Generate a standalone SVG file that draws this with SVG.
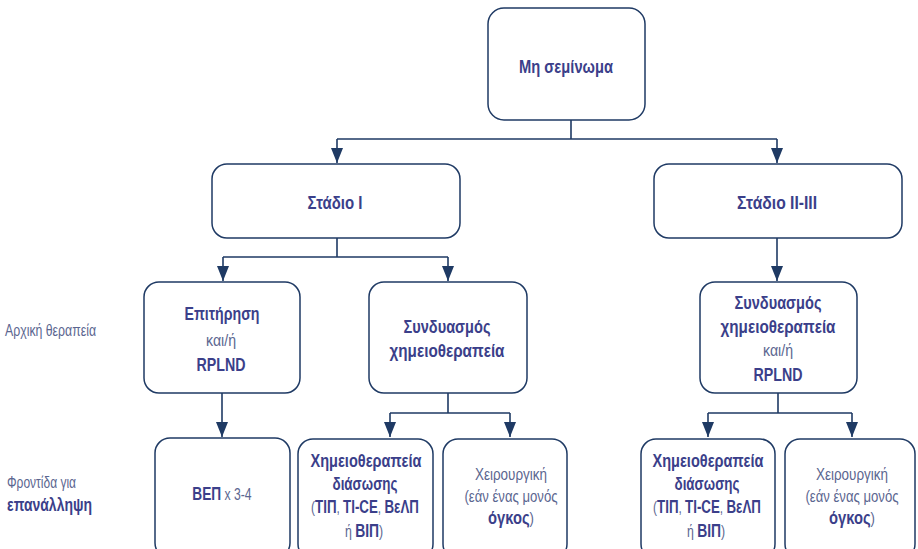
<svg xmlns="http://www.w3.org/2000/svg" width="918" height="549" viewBox="0 0 918 549">
<style>
.box{fill:#fff;stroke:#1f3a64;stroke-width:1.5}
.ln{fill:none;stroke:#1f3a64;stroke-width:1.6}
text{font-family:"Liberation Sans",Arial,sans-serif;text-anchor:middle}
.b{font-weight:bold;fill:#3b3f8a;font-size:18px}
.r{fill:#5b6690;font-size:16px}
.s{text-anchor:start}
</style>
<defs>
<marker id="ah" markerUnits="userSpaceOnUse" markerWidth="15" markerHeight="12" refX="15" refY="6" orient="auto" viewBox="0 0 15 12">
<path d="M0,0 L15,6 L0,12 Z" fill="#1f3a64"/>
</marker>
</defs>
<rect width="918" height="549" fill="#fff"/>
<g id="connectors">
<path class="ln" d="M571,120 V139 M337,139 H777"/>
<path class="ln" d="M337,139 V163" marker-end="url(#ah)"/>
<path class="ln" d="M777,139 V163" marker-end="url(#ah)"/>
<path class="ln" d="M337,238 V257 M223,257 H448"/>
<path class="ln" d="M223,257 V281" marker-end="url(#ah)"/>
<path class="ln" d="M448,257 V281" marker-end="url(#ah)"/>
<path class="ln" d="M777,238 V281" marker-end="url(#ah)"/>
<path class="ln" d="M222,393 V437" marker-end="url(#ah)"/>
<path class="ln" d="M448,393 V413 M390,413 H510"/>
<path class="ln" d="M390,413 V437" marker-end="url(#ah)"/>
<path class="ln" d="M510,413 V437" marker-end="url(#ah)"/>
<path class="ln" d="M778,393 V413 M708,413 H852"/>
<path class="ln" d="M708,413 V437" marker-end="url(#ah)"/>
<path class="ln" d="M852,413 V437" marker-end="url(#ah)"/>
</g>
<g id="labels">
<text class="r s" x="5" y="336" textLength="91" lengthAdjust="spacingAndGlyphs">Αρχική θεραπεία</text>
<text class="r s" x="7" y="488" textLength="69" lengthAdjust="spacingAndGlyphs">Φροντίδα για</text>
<text class="b s" x="7" y="511" textLength="85" lengthAdjust="spacingAndGlyphs">επανάλληψη</text>
</g>
<g id="n-root">
<rect class="box" x="488" y="8" width="157" height="112" rx="16"/>
<text class="b" x="566" y="73" textLength="94" lengthAdjust="spacingAndGlyphs">Μη σεμίνωμα</text>
</g>
<g id="n-stage1">
<rect class="box" x="212" y="164" width="248" height="74" rx="15"/>
<text class="b" x="335" y="209" textLength="55" lengthAdjust="spacingAndGlyphs">Στάδιο Ι</text>
</g>
<g id="n-stage23">
<rect class="box" x="654" y="164" width="248" height="74" rx="15"/>
<text class="b" x="777" y="209" textLength="80" lengthAdjust="spacingAndGlyphs">Στάδιο ΙΙ-ΙΙΙ</text>
</g>
<g id="n-surv">
<rect class="box" x="144" y="282" width="156" height="111" rx="15"/>
<text class="b" x="222" y="320" textLength="75" lengthAdjust="spacingAndGlyphs">Επιτήρηση</text>
<text class="r" x="221" y="346" textLength="30" lengthAdjust="spacingAndGlyphs">και/ή</text>
<text class="b" x="221" y="371" textLength="49" lengthAdjust="spacingAndGlyphs">RPLND</text>
</g>
<g id="n-chemo1">
<rect class="box" x="369" y="282" width="158" height="111" rx="15"/>
<text class="b" x="447" y="333" textLength="87" lengthAdjust="spacingAndGlyphs">Συνδυασμός</text>
<text class="b" x="447" y="357" textLength="115" lengthAdjust="spacingAndGlyphs">χημειοθεραπεία</text>
</g>
<g id="n-chemo23">
<rect class="box" x="700" y="282" width="157" height="111" rx="15"/>
<text class="b" x="778" y="309" textLength="87" lengthAdjust="spacingAndGlyphs">Συνδυασμός</text>
<text class="b" x="778" y="333" textLength="115" lengthAdjust="spacingAndGlyphs">χημειοθεραπεία</text>
<text class="r" x="778" y="356" textLength="30" lengthAdjust="spacingAndGlyphs">και/ή</text>
<text class="b" x="778" y="381" textLength="49" lengthAdjust="spacingAndGlyphs">RPLND</text>
</g>
<g id="n-bep">
<rect class="box" x="155" y="438" width="135" height="120" rx="15"/>
<text class="r" transform="translate(222,500) scale(0.76,1)"><tspan class="b">ΒΕΠ</tspan> x 3-4</text>
</g>
<g id="n-salv1">
<rect class="box" x="298" y="439" width="135" height="120" rx="15"/>
<text class="b" x="366" y="467" textLength="111" lengthAdjust="spacingAndGlyphs">Χημειοθεραπεία</text>
<text class="b" x="365" y="490" textLength="65" lengthAdjust="spacingAndGlyphs">διάσωσης</text>
<text class="r" transform="translate(365,513) scale(0.74,1)">(<tspan class="b">ΤΙΠ</tspan>, <tspan class="b">ΤΙ-CE</tspan>, <tspan class="b">ΒεΛΠ</tspan></text>
<text class="r" transform="translate(364,537) scale(0.77,1)">ή <tspan class="b">ΒΙΠ</tspan>)</text>
</g>
<g id="n-surg1">
<rect class="box" x="443" y="439" width="124" height="120" rx="15"/>
<text class="r" x="511" y="480" textLength="72" lengthAdjust="spacingAndGlyphs">Χειρουργική</text>
<text class="r" x="511" y="502" textLength="93" lengthAdjust="spacingAndGlyphs">(εάν ένας μονός</text>
<text class="r" transform="translate(511,524) scale(0.82,1)"><tspan class="b">όγκος</tspan>)</text>
</g>
<g id="n-salv23">
<rect class="box" x="641" y="439" width="134" height="120" rx="15"/>
<text class="b" x="708" y="467" textLength="111" lengthAdjust="spacingAndGlyphs">Χημειοθεραπεία</text>
<text class="b" x="707" y="490" textLength="65" lengthAdjust="spacingAndGlyphs">διάσωσης</text>
<text class="r" transform="translate(707,513) scale(0.74,1)">(<tspan class="b">ΤΙΠ</tspan>, <tspan class="b">ΤΙ-CE</tspan>, <tspan class="b">ΒεΛΠ</tspan></text>
<text class="r" transform="translate(706,537) scale(0.77,1)">ή <tspan class="b">ΒΙΠ</tspan>)</text>
</g>
<g id="n-surg23">
<rect class="box" x="785" y="439" width="130" height="120" rx="15"/>
<text class="r" x="852" y="480" textLength="72" lengthAdjust="spacingAndGlyphs">Χειρουργική</text>
<text class="r" x="852" y="502" textLength="93" lengthAdjust="spacingAndGlyphs">(εάν ένας μονός</text>
<text class="r" transform="translate(852,524) scale(0.82,1)"><tspan class="b">όγκος</tspan>)</text>
</g>
</svg>
